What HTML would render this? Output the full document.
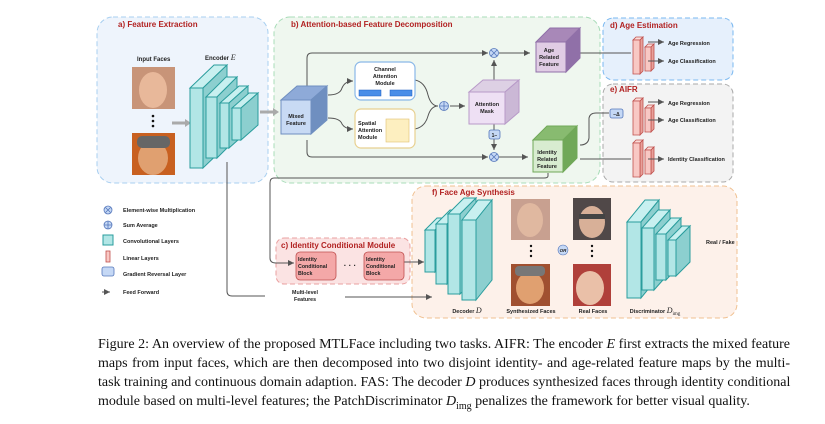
<!DOCTYPE html>
<html><head><meta charset="utf-8"><style>
body{margin:0;background:#fff;width:825px;height:424px;overflow:hidden;position:relative}
svg{position:absolute;left:0;top:0}
svg text{font-family:"Liberation Sans",sans-serif;font-weight:bold;fill:#222}
.cap{position:absolute;left:98px;width:692px;font-family:"Liberation Serif",serif;font-size:14px;line-height:19px;top:335px;color:#111}
.cap div{white-space:nowrap;text-align:justify;text-align-last:justify}
.cap div.last{text-align-last:left}
</style></head><body>
<svg width="825" height="424" viewBox="0 0 825 424">
<defs>
<marker id="ar" markerWidth="8" markerHeight="8" refX="6" refY="3" orient="auto"><path d="M0,0 L6,3 L0,6 z" fill="#555"/></marker>
</defs>
<rect x="97" y="17" width="171" height="166" rx="16" fill="#eef4fc" stroke="#a8cff0" stroke-dasharray="5,3"/>
<rect x="274" y="17" width="326" height="166" rx="16" fill="#eff7ef" stroke="#a8dcb8" stroke-dasharray="5,3"/>
<rect x="603" y="18" width="130" height="62" rx="10" fill="#e6f0fc" stroke="#7ab8f0" stroke-dasharray="5,3"/>
<rect x="603" y="84" width="130" height="98" rx="10" fill="#f3f3f3" stroke="#aaa" stroke-dasharray="5,3"/>
<rect x="412" y="186" width="325" height="132" rx="14" fill="#fdf1ea" stroke="#f0c090" stroke-dasharray="5,3"/>
<rect x="276" y="238" width="134" height="46" rx="8" fill="#fbe3e3" stroke="#eaa0a0" stroke-dasharray="5,3"/>
<text x="118" y="27" font-size="8" style="fill:#b22222">a) Feature Extraction</text>
<text x="291" y="27" font-size="8" style="fill:#b22222">b) Attention-based Feature Decomposition</text>
<text x="610" y="28" font-size="8" style="fill:#b22222">d) Age Estimation</text>
<text x="610" y="92" font-size="8" style="fill:#b22222">e) AIFR</text>
<text x="432" y="195" font-size="8" style="fill:#b22222">f) Face Age Synthesis</text>
<text x="281" y="248" font-size="8" style="fill:#b22222">c) Identity Conditional Module</text>

<text x="137" y="61" font-size="6">Input Faces</text>
<text x="205" y="60" font-size="6">Encoder <tspan font-family="Liberation Serif" font-style="italic" font-weight="normal" font-size="8">E</tspan></text>
<rect x="132" y="67" width="43" height="42" fill="#c89478"/><ellipse cx="153" cy="90" rx="14" ry="18" fill="#e8b89a"/>
<rect x="132" y="133" width="43" height="42" fill="#c86020"/><ellipse cx="153" cy="158" rx="15" ry="17" fill="#e0a070"/><rect x="137" y="136" width="33" height="12" rx="5" fill="#666"/>
<circle cx="153" cy="116" r="1.3" fill="#111"/><circle cx="153" cy="121" r="1.3" fill="#111"/><circle cx="153" cy="126" r="1.3" fill="#111"/>
<line x1="172" y1="123" x2="186" y2="123" stroke="#aaa" stroke-width="3"/><path d="M185,119 L191,123 L185,127z" fill="#aaa"/>
<line x1="260" y1="112" x2="274" y2="112" stroke="#aaa" stroke-width="3"/><path d="M273,108 L279,112 L273,116z" fill="#aaa"/>
<g id="slabs"></g>

<g fill="none" stroke="#555" stroke-width="1">
<path d="M307,95 V58 Q307,53 312,53 H488" marker-end="url(#ar)"/>
<path d="M307,140 V152 Q307,157 312,157 H488" marker-end="url(#ar)"/>
<path d="M328,95 Q340,95 342,88 Q345,81 353,81" marker-end="url(#ar)"/>
<path d="M328,118 Q340,118 342,124 Q345,129 353,129" marker-end="url(#ar)"/>
<path d="M415,80 Q425,82 428,95 Q431,106 438,106"/>
<path d="M415,129 Q425,127 428,116 Q431,106 438,106"/>
<path d="M450,106 H465" marker-end="url(#ar)"/>
<path d="M494,89 V60" marker-end="url(#ar)"/>
<path d="M494,123 V130"/><path d="M494,139 V150" marker-end="url(#ar)"/>
<path d="M499,53 H530" marker-end="url(#ar)"/>
<path d="M499,157 H528" marker-end="url(#ar)"/>
<path d="M580,53 H631"/>
<path d="M580,145 Q588,145 589,138 V118 Q590,113 596,113 H609"/>
<path d="M580,159 H631"/>
<path d="M548,173 V176 Q548,178 544,178 H274 Q270,178 270,183 V258 Q270,263 276,263 H294" marker-end="url(#ar)"/>
<path d="M227,162 V291 Q227,296 232,296 H265"/>
<path d="M345,297 H432" marker-end="url(#ar)"/>
<path d="M404,262 H424" marker-end="url(#ar)"/>
<path d="M648,42 H664" marker-end="url(#ar)"/>
<path d="M648,61 H664" marker-end="url(#ar)"/>
<path d="M648,102 H664" marker-end="url(#ar)"/>
<path d="M648,120 H664" marker-end="url(#ar)"/>
<path d="M648,159 H664" marker-end="url(#ar)"/>
<path d="M102,292 H110" marker-end="url(#ar)"/>
</g>
<rect x="355" y="62" width="60" height="38" rx="6" fill="#fff" stroke="#8ab8e8" stroke-width="1.2"/>
<text x="385" y="71" font-size="5.5" text-anchor="middle">Channel</text>
<text x="385" y="78" font-size="5.5" text-anchor="middle">Attention</text>
<text x="385" y="85" font-size="5.5" text-anchor="middle">Module</text>
<rect x="359" y="90" width="22" height="6" fill="#4a8ee8" stroke="#1a5cc0" stroke-width=".5"/>
<rect x="390" y="90" width="22" height="6" fill="#4a8ee8" stroke="#1a5cc0" stroke-width=".5"/>
<rect x="355" y="109" width="60" height="39" rx="6" fill="#fff" stroke="#e8d090" stroke-width="1.2"/>
<text x="358" y="125" font-size="5.5">Spatial</text>
<text x="358" y="132" font-size="5.5">Attention</text>
<text x="358" y="139" font-size="5.5">Module</text>
<rect x="386" y="119" width="23" height="23" fill="#fdefc0" stroke="#e0c070" stroke-width=".6"/>
<circle cx="444" cy="106" r="4.5" fill="#c5d8f5" stroke="#5577bb" stroke-width=".8"/><path d="M439.5,106 H448.5 M444,101.5 V110.5" stroke="#5577bb" stroke-width=".8"/>
<circle cx="494" cy="53" r="4.5" fill="#c5d8f5" stroke="#5577bb" stroke-width=".8"/><path d="M491,50 L497,56 M497,50 L491,56" stroke="#5577bb" stroke-width=".8"/>
<circle cx="494" cy="157" r="4.5" fill="#c5d8f5" stroke="#5577bb" stroke-width=".8"/><path d="M491,154 L497,160 M497,154 L491,160" stroke="#5577bb" stroke-width=".8"/>
<rect x="489" y="130" width="11" height="9" rx="2" fill="#c5d8f5" stroke="#5577bb" stroke-width=".8"/><text x="494.5" y="137" font-size="5" text-anchor="middle" font-weight="normal">1−</text>
<g id="cubes"></g>
<text x="296" y="118" font-size="5.5" text-anchor="middle">Mixed</text><text x="296" y="125" font-size="5.5" text-anchor="middle">Feature</text>
<text x="487" y="106" font-size="5.5" text-anchor="middle">Attention</text><text x="487" y="113" font-size="5.5" text-anchor="middle">Mask</text>
<text x="549" y="52" font-size="5.5" text-anchor="middle">Age</text><text x="549" y="59" font-size="5.5" text-anchor="middle">Related</text><text x="549" y="66" font-size="5.5" text-anchor="middle">Feature</text>
<text x="547" y="154" font-size="5.5" text-anchor="middle">Identity</text><text x="547" y="161" font-size="5.5" text-anchor="middle">Related</text><text x="547" y="168" font-size="5.5" text-anchor="middle">Feature</text>
<rect x="610" y="109" width="13" height="9" rx="2" fill="#c5d8f5" stroke="#5577bb" stroke-width=".8"/><text x="616.5" y="116" font-size="5" text-anchor="middle" font-weight="normal">−Δ</text>
<text x="668" y="45" font-size="5.5">Age Regression</text>
<text x="668" y="63" font-size="5.5">Age Classification</text>
<text x="668" y="105" font-size="5.5">Age Regression</text>
<text x="668" y="122" font-size="5.5">Age Classification</text>
<text x="668" y="161" font-size="5.5">Identity Classification</text>
<circle cx="108" cy="210" r="4" fill="#c5d8f5" stroke="#5577bb" stroke-width=".8"/><path d="M105.5,207.5 L110.5,212.5 M110.5,207.5 L105.5,212.5" stroke="#5577bb" stroke-width=".8"/>
<circle cx="108" cy="225" r="4" fill="#c5d8f5" stroke="#5577bb" stroke-width=".8"/><path d="M104,225 H112 M108,221 V229" stroke="#5577bb" stroke-width=".8"/>
<rect x="103" y="235" width="10" height="10" fill="#b2e6e6" stroke="#2a9d9d"/>
<rect x="106" y="251" width="4" height="11" fill="#f8c8c4" stroke="#c0504d" stroke-width=".8"/>
<rect x="102" y="267" width="12" height="9" rx="2" fill="#c5d8f5" stroke="#5577bb" stroke-width=".8"/>
<text x="123" y="212" font-size="5.5">Element-wise Multiplication</text>
<text x="123" y="227" font-size="5.5">Sum Average</text>
<text x="123" y="243" font-size="5.5">Convolutional Layers</text>
<text x="123" y="260" font-size="5.5">Linear Layers</text>
<text x="123" y="276" font-size="5.5">Gradient Reversal Layer</text>
<text x="123" y="294" font-size="5.5">Feed Forward</text>
<rect x="296" y="252" width="40" height="28" rx="4" fill="#f4a8a8" stroke="#c05050" stroke-width=".8"/>
<rect x="364" y="252" width="40" height="28" rx="4" fill="#f4a8a8" stroke="#c05050" stroke-width=".8"/>
<text x="298" y="261" font-size="5.3">Identity</text><text x="298" y="268" font-size="5.3">Conditional</text><text x="298" y="275" font-size="5.3">Block</text>
<text x="366" y="261" font-size="5.3">Identity</text><text x="366" y="268" font-size="5.3">Conditional</text><text x="366" y="275" font-size="5.3">Block</text>
<text x="350" y="268" font-size="8" text-anchor="middle">· · ·</text>
<text x="305" y="294" font-size="5.3" text-anchor="middle">Multi-level</text><text x="305" y="301" font-size="5.3" text-anchor="middle">Features</text>
<rect x="511" y="199" width="39" height="41" fill="#c8a090"/><ellipse cx="530" cy="220" rx="13" ry="17" fill="#e0b8a0"/>
<rect x="511" y="264" width="39" height="42" fill="#a05030"/><ellipse cx="530" cy="288" rx="14" ry="16" fill="#e0a070"/><rect x="515" y="266" width="30" height="10" rx="4" fill="#777"/>
<rect x="573" y="198" width="38" height="42" fill="#504848"/><ellipse cx="592" cy="222" rx="13" ry="16" fill="#d8b098"/><rect x="579" y="214" width="26" height="5" fill="#444"/>
<rect x="573" y="264" width="38" height="42" fill="#b0403a"/><ellipse cx="590" cy="288" rx="14" ry="17" fill="#eac0a8"/>
<circle cx="531" cy="246" r="1.2" fill="#111"/><circle cx="531" cy="251" r="1.2" fill="#111"/><circle cx="531" cy="256" r="1.2" fill="#111"/>
<circle cx="592" cy="246" r="1.2" fill="#111"/><circle cx="592" cy="251" r="1.2" fill="#111"/><circle cx="592" cy="256" r="1.2" fill="#111"/>
<circle cx="563" cy="250" r="5" fill="#c5d8f5" stroke="#5577bb" stroke-width=".6"/><text x="563" y="252" font-size="4.5" text-anchor="middle" font-style="italic">OR</text>
<text x="706" y="244" font-size="5.5">Real / Fake</text>
<text x="467" y="313" font-size="5.5" text-anchor="middle">Decoder <tspan font-family="Liberation Serif" font-style="italic" font-weight="normal" font-size="8">D</tspan></text>
<text x="531" y="313" font-size="5.5" text-anchor="middle">Synthesized Faces</text>
<text x="593" y="313" font-size="5.5" text-anchor="middle">Real Faces</text>
<text x="655" y="313" font-size="5.5" text-anchor="middle">Discriminator <tspan font-family="Liberation Serif" font-style="italic" font-weight="normal" font-size="8">D</tspan><tspan font-family="Liberation Serif" font-weight="normal" font-size="5" dy="2">img</tspan></text>
</svg>
<div class="cap">
<div>Figure 2: An overview of the proposed MTLFace including two tasks. AIFR: The encoder <i>E</i> first extracts the mixed feature</div>
<div>maps from input faces, which are then decomposed into two disjoint identity- and age-related feature maps by the multi-</div>
<div>task training and continuous domain adaption. FAS: The decoder <i>D</i> produces synthesized faces through identity conditional</div>
<div class="last">module based on multi-level features; the PatchDiscriminator <i>D</i><sub style="font-size:10px">img</sub> penalizes the framework for better visual quality.</div>
</div>
<script>
var NS="http://www.w3.org/2000/svg";
function slab(g,x,y,w,h,dx,dy,f,t,s,st,sw){
 function p(pts,fill){var e=document.createElementNS(NS,"polygon");e.setAttribute("points",pts);e.setAttribute("fill",fill);e.setAttribute("stroke",st);e.setAttribute("stroke-width",sw||1);g.appendChild(e);}
 p([x,y,x+dx,y+dy,x+w+dx,y+dy,x+w,y].join(","),t);
 p([x+w,y,x+w+dx,y+dy,x+w+dx,y+h+dy,x+w,y+h].join(","),s);
 p([x,y,x+w,y,x+w,y+h,x,y+h].join(","),f);
}
var g=document.getElementById("slabs");
var T=["#b2e6e6","#c8f0f0","#8ccfcf","#2a9d9d"];
slab(g,190,88,13,80,24,-23,T[0],T[1],T[2],T[3]);
slab(g,206,97,11,61,20,-20,T[0],T[1],T[2],T[3]);
slab(g,220,103,9,45,19,-17,T[0],T[1],T[2],T[3]);
slab(g,232,108,9,32,17,-15,T[0],T[1],T[2],T[3]);
slab(g,425,230,10,42,12,-12,T[0],T[1],T[2],T[3]);
slab(g,436,224,11,60,14,-14,T[0],T[1],T[2],T[3]);
slab(g,448,214,12,80,16,-16,T[0],T[1],T[2],T[3]);
slab(g,462,220,14,80,16,-20,T[0],T[1],T[2],T[3]);
slab(g,627,222,14,76,18,-22,T[0],T[1],T[2],T[3]);
slab(g,642,228,12,62,16,-18,T[0],T[1],T[2],T[3]);
slab(g,656,234,10,46,15,-16,T[0],T[1],T[2],T[3]);
slab(g,668,240,8,36,14,-14,T[0],T[1],T[2],T[3]);
var L=["#f8c8c4","#fbdcd8","#e8a09a","#c0504d"];
[[633,40,7,34],[645,47,6,24],[633,101,7,34],[645,108,6,24],[633,143,7,34],[645,150,6,24]].forEach(function(a){slab(g,a[0],a[1],a[2],a[3],3,-3,L[0],L[1],L[2],L[3],.8);});
var c=document.getElementById("cubes");
slab(c,281,100,30,34,16,-14,"#c8daf4","#8eaad8","#6f8fc0","#6f8fc0");
slab(c,469,92,36,32,14,-12,"#eee0f4","#ddd0e4","#cbb8d6","#b89ac8");
slab(c,536,42,30,30,14,-14,"#e0cce4","#a888b8","#9070a8","#9070a8");
slab(c,533,140,30,32,14,-14,"#d8ecd0","#88bb70","#70a858","#70a858");
</script>
</body></html>
